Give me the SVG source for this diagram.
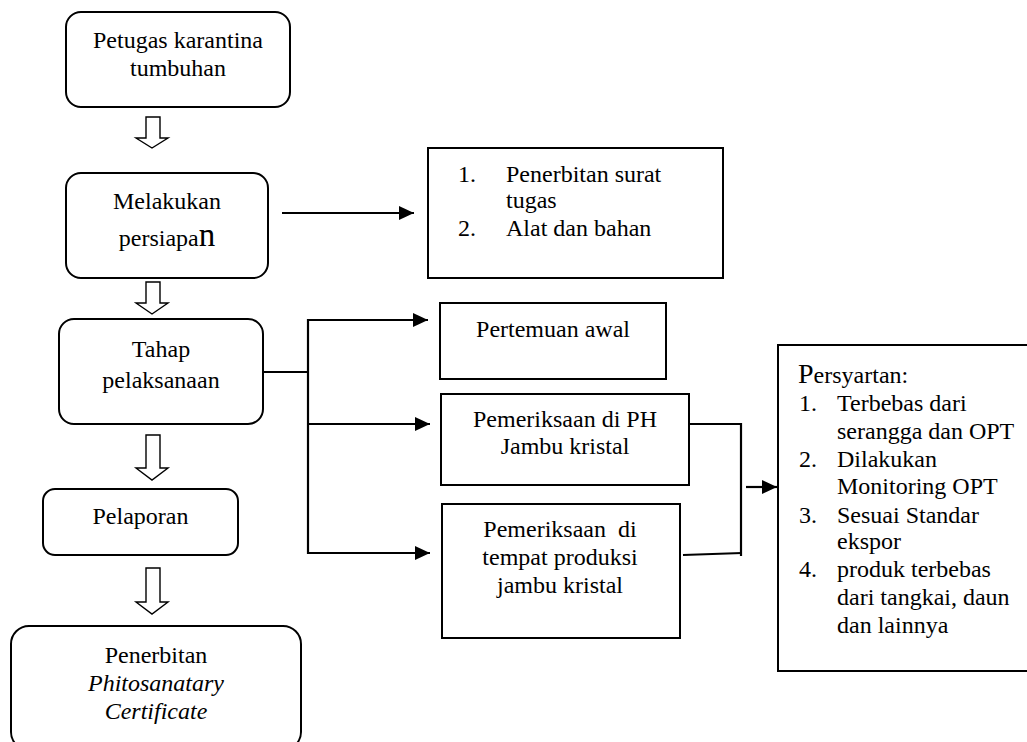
<svg xmlns="http://www.w3.org/2000/svg" width="1027" height="742" viewBox="0 0 1027 742">
<defs>
<style>
.box{fill:#fff;stroke:#000;stroke-width:2}
.hollow{fill:#fff;stroke:#000;stroke-width:1.4;stroke-linejoin:miter}
text{font-family:'Liberation Serif','Times New Roman',Tinos,'DejaVu Serif',serif;font-size:24px;fill:#000}
.c{text-anchor:middle}
.i{font-style:italic}
.ln{fill:none;stroke:#000;stroke-width:2.2}
</style>
<marker id="ah" markerUnits="userSpaceOnUse" markerWidth="16" markerHeight="14" refX="15" refY="7" orient="auto">
<path d="M0,0 L15,7 L0,14 z" fill="#000"/>
</marker>
</defs>
<rect width="1027" height="742" fill="#fff"/>

<g id="node-petugas" font-family="Liberation Serif, serif">
<rect class="box" x="66" y="12" width="224" height="95" rx="15"/>
<text class="c" x="178" y="48">Petugas karantina</text>
<text class="c" x="178" y="76">tumbuhan</text>
</g>

<g id="node-persiapan">
<rect class="box" x="66" y="173" width="202" height="105" rx="15"/>
<text class="c" x="167" y="209">Melakukan</text>
<text class="c" x="167" y="246">persiapa<tspan font-size="33">n</tspan></text>
</g>

<g id="node-pelaksanaan">
<rect class="box" x="59" y="319" width="204" height="105" rx="15"/>
<text class="c" x="161" y="357">Tahap</text>
<text class="c" x="161" y="388">pelaksanaan</text>
</g>

<g id="node-pelaporan">
<rect class="box" x="43" y="489" width="195" height="66" rx="12"/>
<text class="c" x="140.5" y="524">Pelaporan</text>
</g>

<g id="node-penerbitan">
<rect class="box" x="11" y="626" width="290" height="124" rx="18"/>
<text class="c" x="156" y="663">Penerbitan</text>
<text class="c i" x="156" y="691">Phitosanatary</text>
<text class="c i" x="156" y="719">Certificate</text>
</g>

<g id="node-surat">
<rect class="box" x="428" y="148" width="295" height="130"/>
<text x="458" y="182">1.</text>
<text x="506" y="182">Penerbitan surat</text>
<text x="506" y="208">tugas</text>
<text x="458" y="236">2.</text>
<text x="506" y="236">Alat dan bahan</text>
</g>

<g id="node-pertemuan">
<rect class="box" x="440" y="303" width="226" height="76"/>
<text class="c" x="553" y="337">Pertemuan awal</text>
</g>

<g id="node-ph">
<rect class="box" x="441" y="394" width="248" height="91"/>
<text class="c" x="565" y="427">Pemeriksaan di PH</text>
<text class="c" x="565" y="454">Jambu kristal</text>
</g>

<g id="node-produksi">
<rect class="box" x="442" y="504" width="238" height="134"/>
<text class="c" x="560" y="537" xml:space="preserve">Pemeriksaan  di</text>
<text class="c" x="560" y="565">tempat produksi</text>
<text class="c" x="560" y="593">jambu kristal</text>
</g>

<g id="node-persyaratan">
<rect class="box" x="778" y="345" width="260" height="326"/>
<text x="798" y="383"><tspan font-size="28">P</tspan>ersyartan:</text>
<text x="799" y="411">1.</text>
<text x="837" y="411">Terbebas dari</text>
<text x="837" y="439">serangga dan OPT</text>
<text x="799" y="467">2.</text>
<text x="837" y="467">Dilakukan</text>
<text x="837" y="494">Monitoring OPT</text>
<text x="799" y="523">3.</text>
<text x="837" y="523">Sesuai Standar</text>
<text x="837" y="549">ekspor</text>
<text x="799" y="577">4.</text>
<text x="837" y="577">produk terbebas</text>
<text x="837" y="605">dari tangkai, daun</text>
<text x="837" y="633">dan lainnya</text>
</g>

<g id="connectors">
<polygon class="hollow" points="146,117 160,117 160,138 168,138 152,148 136,138 146,138"/>
<polygon class="hollow" points="146,282 160,282 160,303 168,303 152,314 136,303 146,303"/>
<polygon class="hollow" points="146,435 160,435 160,468 168,468 152,480 136,468 146,468"/>
<polygon class="hollow" points="146,568 160,568 160,602 168,602 152,614 136,602 146,602"/>
<line class="ln" x1="282" y1="213" x2="414" y2="213" marker-end="url(#ah)"/>
<line class="ln" x1="263" y1="372" x2="308" y2="372"/>
<line class="ln" x1="308" y1="319" x2="308" y2="554"/>
<line class="ln" x1="307" y1="320" x2="428" y2="320" marker-end="url(#ah)"/>
<line class="ln" x1="307" y1="424" x2="430" y2="424" marker-end="url(#ah)"/>
<line class="ln" x1="307" y1="553" x2="430" y2="553" marker-end="url(#ah)"/>
<line class="ln" x1="689" y1="424" x2="742" y2="424"/>
<line class="ln" x1="741" y1="423" x2="741" y2="556"/>
<line class="ln" x1="683" y1="555" x2="742" y2="553"/>
<line class="ln" x1="746" y1="487" x2="777" y2="487" marker-end="url(#ah)"/>
</g>
</svg>
